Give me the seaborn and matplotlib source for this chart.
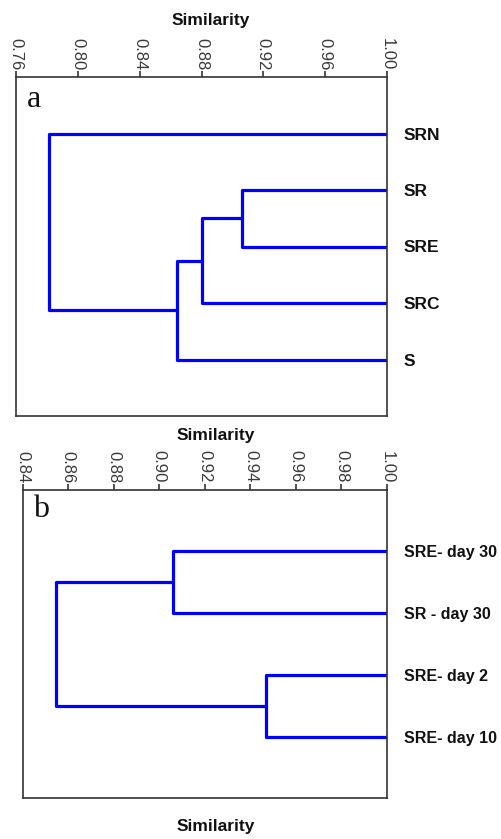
import numpy as np
import pandas as pd
import matplotlib
matplotlib.use("Agg")
import matplotlib.pyplot as plt
import seaborn as sns

# ---- data ----
leaves_a = ["SRN", "SR", "SRE", "SRC", "S"]
# merges: (child1, child2, similarity); children are leaf names or merge ids "m0", "m1", ...
merges_a = [("SR", "SRE", 0.906), ("m0", "SRC", 0.880), ("m1", "S", 0.864), ("SRN", "m2", 0.7815)]
ticks_a = [0.76, 0.80, 0.84, 0.88, 0.92, 0.96, 1.00]

leaves_b = ["SRE- day 30", "SR - day 30", "SRE- day 2", "SRE- day 10"]
merges_b = [("SRE- day 30", "SR - day 30", 0.906), ("SRE- day 2", "SRE- day 10", 0.947), ("m0", "m1", 0.8545)]
ticks_b = [0.84, 0.86, 0.88, 0.90, 0.92, 0.94, 0.96, 0.98, 1.00]


def dendro_segments(leaves, merges):
    pos = {name: (1.0, i) for i, name in enumerate(leaves)}
    rows = []
    for k, (c1, c2, h) in enumerate(merges):
        x1, y1 = pos[c1]
        x2, y2 = pos[c2]
        for j, (xx, yy) in enumerate([(x1, y1), (h, y1), (h, y2), (x2, y2)]):
            rows.append({"x": xx, "y": yy, "seg": k, "order": j})
        pos[f"m{k}"] = (h, (y1 + y2) / 2)
    return pd.DataFrame(rows)


sns.set_style("white")
plt.rcParams["font.family"] = ["Liberation Sans", "DejaVu Sans"]

fig = plt.figure(figsize=(5.01, 8.39), dpi=100)
W, H = 501, 839


def make_axes(l, t, r, b):
    return fig.add_axes([l / W, 1 - b / H, (r - l) / W, (b - t) / H])


ax_a = make_axes(16, 77, 387, 416)
ax_b = make_axes(22.7, 489.7, 387, 798.3)

blue = "#0000FF"
for ax, leaves, merges, ticks, letter, lfs, lx in [
    (ax_a, leaves_a, merges_a, ticks_a, "a", 12.5, 0.030),
    (ax_b, leaves_b, merges_b, ticks_b, "b", 11.5, 0.028),
]:
    df = dendro_segments(leaves, merges)
    sns.lineplot(data=df, x="x", y="y", units="seg", estimator=None, sort=False,
                 color=blue, lw=2.3, ax=ax, legend=False)
    ax.set_xlim(ticks[0], ticks[-1])
    ax.set_ylim(len(leaves), -1)
    ax.set_xlabel("")
    ax.set_ylabel("")
    ax.xaxis.tick_top()
    ax.set_xticks(ticks)
    ax.set_xticklabels([f"{t:.2f}" for t in ticks], rotation=-90, fontsize=12, color="#3a3a3a")
    ax.tick_params(axis="x", direction="out", length=4, width=1.2, color="#333333", pad=1,
                   top=True, bottom=False)
    ax.yaxis.tick_right()
    ax.set_yticks(range(len(leaves)))
    ax.set_yticklabels(leaves, fontsize=lfs, fontweight="bold", color="#111111")
    ax.tick_params(axis="y", length=0, pad=12)
    for sp in ax.spines.values():
        sp.set_color("#333333")
        sp.set_linewidth(1.2)
    ax.text(lx, 0.935, letter, transform=ax.transAxes, fontsize=23,
            family=["Liberation Serif", "DejaVu Serif"], va="center", ha="left", color="#111111")

fig.text(211 / W, 1 - 20 / H, "Similarity", ha="center", va="center", fontsize=12.5, fontweight="bold", color="#111111")
fig.text(216 / W, 1 - 435 / H, "Similarity", ha="center", va="center", fontsize=12.5, fontweight="bold", color="#111111")
fig.text(216 / W, 1 - 826 / H, "Similarity", ha="center", va="center", fontsize=12.5, fontweight="bold", color="#111111")

fig.savefig("out.png", dpi=100, facecolor="white")
